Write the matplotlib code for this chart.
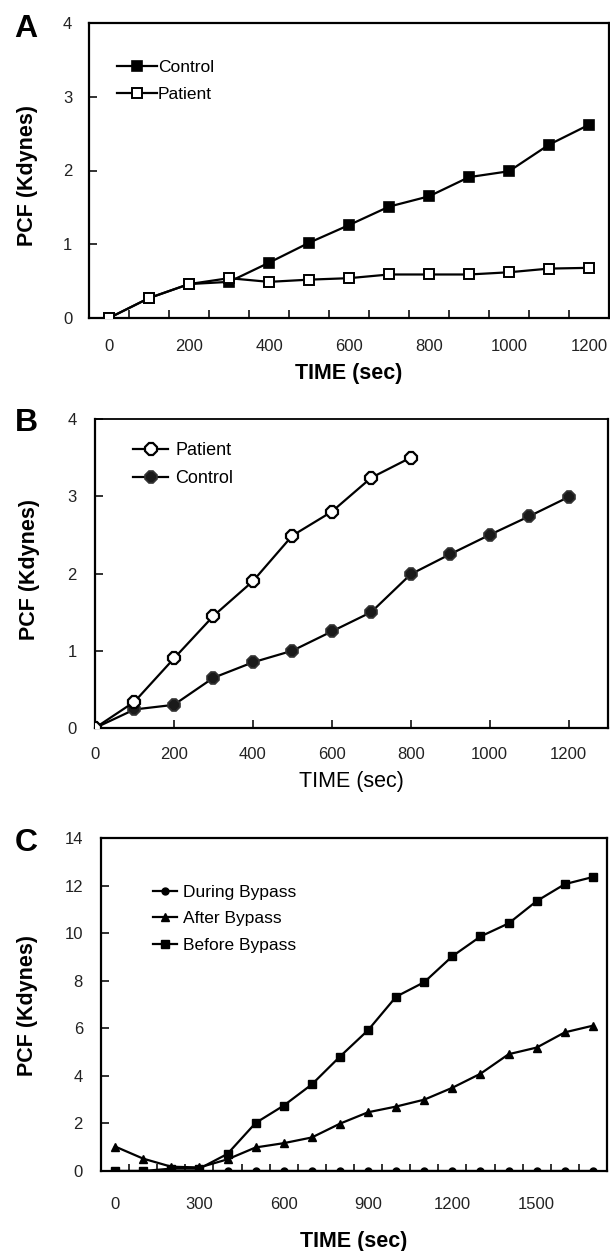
import matplotlib
matplotlib.use("Agg")
import matplotlib.pyplot as plt
from matplotlib.ticker import FixedLocator, NullFormatter

plt.rcParams['font.family'] = ['Liberation Sans', 'DejaVu Sans']

# ---- Panel A data ----
a_time = [0, 100, 200, 300, 400, 500, 600, 700, 800, 900, 1000, 1100, 1200]
a_control = [0.0, 0.27, 0.46, 0.49, 0.75, 1.02, 1.26, 1.51, 1.65, 1.91, 1.99, 2.35, 2.62]
a_patient = [0.0, 0.27, 0.46, 0.54, 0.49, 0.52, 0.54, 0.59, 0.59, 0.59, 0.62, 0.67, 0.68]
a_xlabels = [0, 200, 400, 600, 800, 1000, 1200]

# ---- Panel B data ----
b_time_patient = [0, 100, 200, 300, 400, 500, 600, 700, 800]
b_patient = [0.0, 0.34, 0.90, 1.45, 1.90, 2.49, 2.80, 3.24, 3.50]
b_time_control = [0, 100, 200, 300, 400, 500, 600, 700, 800, 900, 1000, 1100, 1200]
b_control = [0.0, 0.24, 0.30, 0.65, 0.85, 1.00, 1.25, 1.50, 1.99, 2.25, 2.50, 2.74, 2.99]
b_xlabels = [0, 200, 400, 600, 800, 1000, 1200]

# ---- Panel C data ----
c_time = [0, 100, 200, 300, 400, 500, 600, 700, 800, 900, 1000, 1100, 1200, 1300, 1400, 1500, 1600, 1700]
c_during = [0.0] * 18
c_after = [1.03, 0.52, 0.18, 0.15, 0.49, 0.99, 1.17, 1.41, 1.99, 2.47, 2.71, 3.0, 3.5, 4.09, 4.91, 5.19, 5.83, 6.11]
c_before = [0.0, 0.0, 0.1, 0.1, 0.72, 2.02, 2.75, 3.64, 4.81, 5.92, 7.33, 7.94, 9.03, 9.86, 10.41, 11.35, 12.06, 12.36]
c_xlabels = [0, 300, 600, 900, 1200, 1500]

W, H = 610, 1251
fig = plt.figure(figsize=(W / 100, H / 100), dpi=100)

LW = 1.6
TICKFS = 12
LABFS = 15.5


def ax_at(left, right, top, bottom):
    return fig.add_axes([left / W, 1 - bottom / H, (right - left) / W, (bottom - top) / H])


def style(ax, ypad, xpad):
    for s in ax.spines.values():
        s.set_linewidth(1.6)
        s.set_color('black')
    ax.tick_params(axis='both', which='both', direction='in', width=1.3, colors='#222222',
                   labelsize=TICKFS, labelcolor='#222222')
    ax.tick_params(axis='y', which='major', length=6, pad=ypad)
    ax.tick_params(axis='x', which='major', pad=xpad)


def labels(ax, box, xlab_y, ylab_x, ylab_y, bold_x=True):
    left, right, top, bottom = box
    ax.set_xlabel('TIME (sec)', fontsize=LABFS, fontweight='bold' if bold_x else 'normal')
    ax.xaxis.label.set_va('center')
    ax.xaxis.set_label_coords(0.5, -(xlab_y - bottom) / (bottom - top))
    ax.set_ylabel('PCF (Kdynes)', fontsize=LABFS, fontweight='bold')
    ax.yaxis.label.set_va('center')
    ax.yaxis.set_label_coords((ylab_x - left) / (right - left), (bottom - ylab_y) / (bottom - top))


def fig_anchor(x, y):
    return (x / W, 1 - y / H)


# ---------------- Panel A ----------------
boxA = (89, 609, 23, 318)
axA = ax_at(*boxA)
axA.plot(a_time, a_control, color='black', lw=LW, marker='s', ms=7.5, mfc='black', mec='black',
         mew=1.2, label='Control', zorder=3)
axA.plot(a_time, a_patient, color='black', lw=LW, marker='s', ms=7.5, mfc='white', mec='black',
         mew=1.4, label='Patient', zorder=4)
axA.set_xlim(-50, 1250)
axA.set_ylim(0, 4)
axA.set_yticks([0, 1, 2, 3, 4])
axA.set_xticks(a_xlabels)
axA.xaxis.set_minor_locator(FixedLocator([t + 50 for t in a_time[:-1]]))
axA.xaxis.set_minor_formatter(NullFormatter())
style(axA, ypad=12, xpad=15)
axA.tick_params(axis='x', which='major', length=0)
axA.tick_params(axis='x', which='minor', length=6)
labels(axA, boxA, 373, 28, 175)
axA.legend(loc='upper left', bbox_to_anchor=fig_anchor(117, 60), bbox_transform=fig.transFigure,
           frameon=False, fontsize=12.5, handlelength=2.3, handletextpad=0.05, labelspacing=0.68,
           borderaxespad=0, borderpad=0)

# ---------------- Panel B ----------------
boxB = (95, 608, 419, 728)
axB = ax_at(*boxB)
axB.plot(b_time_patient, b_patient, color='black', lw=LW, marker='8', ms=9, mfc='white', mec='black',
         mew=1.6, label='Patient', zorder=4)
axB.plot(b_time_control, b_control, color='black', lw=LW, marker='8', ms=9, mfc='#1a1a1a', mec='#333333',
         mew=1.2, label='Control', zorder=3)
axB.set_xlim(0, 1300)
axB.set_ylim(0, 4)
axB.set_yticks([0, 1, 2, 3, 4])
axB.set_xticks(b_xlabels)
style(axB, ypad=13, xpad=14)
axB.tick_params(axis='x', which='major', length=6)
axB.spines['top'].set_linewidth(1.3)
labels(axB, boxB, 782, 29, 569, bold_x=False)
axB.legend(loc='upper left', bbox_to_anchor=fig_anchor(133, 442), bbox_transform=fig.transFigure,
           frameon=False, fontsize=13, handlelength=1.95, handletextpad=0.4, labelspacing=0.62,
           borderaxespad=0, borderpad=0)

# ---------------- Panel C ----------------
boxC = (101, 607, 838, 1171)
axC = ax_at(*boxC)
axC.plot(c_time, c_during, color='black', lw=LW, marker='o', ms=5, mfc='black', mec='black',
         label='During Bypass', zorder=3)
axC.plot(c_time, c_after, color='black', lw=LW, marker='^', ms=6, mfc='black', mec='black',
         label='After Bypass', zorder=3)
axC.plot(c_time, c_before, color='black', lw=LW, marker='s', ms=5.5, mfc='black', mec='black',
         label='Before Bypass', zorder=3)
axC.set_xlim(-50, 1750)
axC.set_ylim(0, 14)
axC.set_yticks(range(0, 15, 2))
axC.set_xticks(c_xlabels)
axC.xaxis.set_minor_locator(FixedLocator([t + 50 for t in c_time[:-1]]))
axC.xaxis.set_minor_formatter(NullFormatter())
style(axC, ypad=13, xpad=19)
axC.tick_params(axis='x', which='major', length=0)
axC.tick_params(axis='x', which='minor', length=5)
labels(axC, boxC, 1242, 28, 1006)
axC.legend(loc='upper left', bbox_to_anchor=fig_anchor(153, 885), bbox_transform=fig.transFigure,
           frameon=False, fontsize=12.5, handlelength=1.4, handletextpad=0.35, labelspacing=0.64,
           borderaxespad=0, borderpad=0)

# panel letters
for letter, ly in [('A', 29), ('B', 423), ('C', 843)]:
    fig.text(26 / W, 1 - ly / H, letter, fontsize=23, fontweight='bold', ha='center', va='center')

fig.savefig('out.png', dpi=100)
